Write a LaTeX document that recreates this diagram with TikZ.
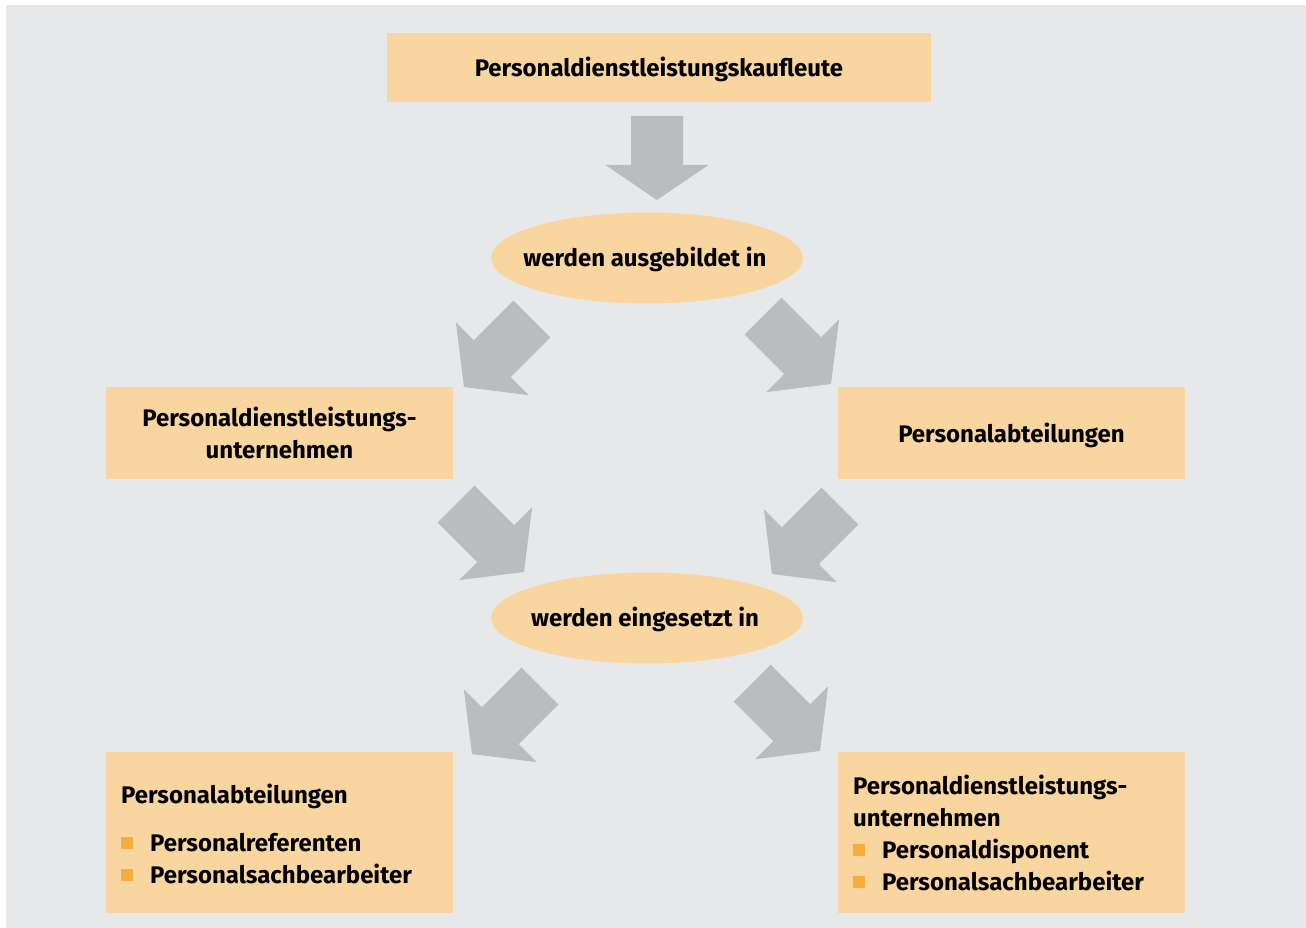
\documentclass[tikz,border=0pt]{standalone}
\usepackage{fontspec}
\setmainfont{Fira Sans}
\usetikzlibrary{shapes.geometric}
\definecolor{bggray}{HTML}{E7E8EA}
\definecolor{boxfill}{HTML}{F9D6A0}
\definecolor{arrowgray}{HTML}{BBBCBF}
\definecolor{bulletorange}{HTML}{F5AE3E}
\newcommand{\bul}{\textcolor{bulletorange}{\raisebox{2pt}{\rule{12pt}{12pt}}}}
\tikzset{
  labelfont/.style={font=\fontsize{24}{32}\selectfont\bfseries},
  box/.style={fill=boxfill, inner sep=0pt, align=center, labelfont},
  oval/.style={ellipse, fill=boxfill, inner sep=0pt, minimum width=312pt, minimum height=91pt, labelfont},
  line/.style={inner sep=0pt, anchor=base west, labelfont},
  % block arrow pointing down, tip at the origin; #1 = total length, #2 = head length
  pics/blockarrow/.style 2 args={code={
    \fill[arrowgray] (0,0) -- (-51.5,-#2) -- (-26,-#2) -- (-26,-#1) -- (26,-#1)
      -- (26,-#2) -- (51.5,-#2) -- cycle;}}
}
\begin{document}
\begin{tikzpicture}[x=1pt, y=-1pt]
\useasboundingbox (0,0) rectangle (1306,928);
\fill[white] (0,0) rectangle (1306,928);
\fill[bggray] (6,5) rectangle (1306,928);

% boxes and ovals
\node[box, minimum width=544pt, minimum height=69pt] (top) at (659,67.5) {};
\node[line, anchor=base] (toptext) at (659,77) {Personaldienstleistungskaufleute};
\node[oval] (trained) at (647,258) {};
\node[line, anchor=base] (trainedtext) at (645,266) {werden ausgebildet in};
\node[box, minimum width=347pt, minimum height=92pt] (pdl) at (279.5,433) {};
\node[line, anchor=base] (pdl1) at (279.5,426) {Personaldienstleistungs-};
\node[line, anchor=base] (pdl2) at (279.5,458) {unternehmen};
\node[box, minimum width=347pt, minimum height=92pt] (pab) at (1011.5,433) {};
\node[line, anchor=base] (pabtext) at (1011.5,442) {Personalabteilungen};
\node[oval] (employed) at (647,618) {};
\node[line, anchor=base] (employedtext) at (645,626) {werden eingesetzt in};
\node[box, minimum width=347pt, minimum height=161pt] (bl) at (279.5,832.5) {};
\node[box, minimum width=347pt, minimum height=161pt] (br) at (1011.5,832.5) {};

% lists in the lower boxes
\node[line] (bl1) at (121,803) {Personalabteilungen};
\node[line] (bl2) at (121,851) {\bul\hspace{17pt}Personalreferenten};
\node[line] (bl3) at (121,883) {\bul\hspace{17pt}Personalsachbearbeiter};
\node[line] (br1) at (853,794) {Personaldienstleistungs-};
\node[line] (br2) at (853,826) {unternehmen};
\node[line] (br3) at (853,858) {\bul\hspace{17pt}Personaldisponent};
\node[line] (br4) at (853,890) {\bul\hspace{17pt}Personalsachbearbeiter};

% block arrows
\pic at (657,200) {blockarrow={84}{35}};
\pic[rotate=-45] at (464,387) {blockarrow={96}{40}};
\pic[rotate=45] at (831,384) {blockarrow={96}{40}};
\pic[rotate=45] at (524,572) {blockarrow={96}{40}};
\pic[rotate=-45] at (772,574) {blockarrow={96}{40}};
\pic[rotate=-45] at (472,754) {blockarrow={96}{40}};
\pic[rotate=45] at (820,751) {blockarrow={96}{40}};
\end{tikzpicture}
\end{document}
